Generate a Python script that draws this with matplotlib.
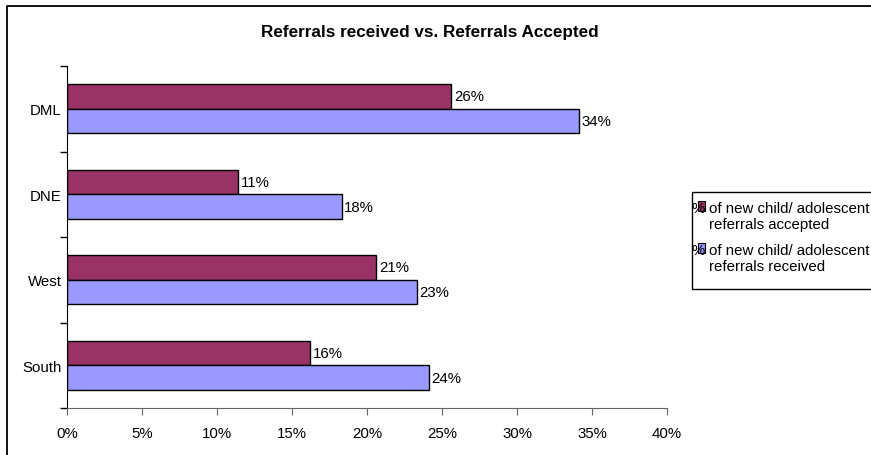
import matplotlib
matplotlib.use("Agg")
import matplotlib.pyplot as plt
from matplotlib.patches import Rectangle
from matplotlib.ticker import FuncFormatter, MultipleLocator

plt.rcParams['font.family'] = ['Liberation Sans', 'DejaVu Sans']

regions = ["DML", "DNE", "West", "South"]
accepted = [0.256, 0.114, 0.206, 0.162]
received = [0.341, 0.183, 0.233, 0.241]
series_names = ["% of new child/ adolescent\nreferrals accepted",
                "% of new child/ adolescent\nreferrals received"]
accepted_color = "#993366"
received_color = "#9999FF"

W, H = 871, 456
fig = plt.figure(figsize=(W / 100, H / 100), dpi=100)

# main plot area in pixel units
left, right, top, bottom = 67, 667, 67, 409
ax = fig.add_axes([left / W, 1 - bottom / H, (right - left) / W, (bottom - top) / H])

n = len(regions)
pos = list(range(n))
bh = 0.287
acc_y = [p - bh / 2 for p in pos]
rec_y = [p + bh / 2 for p in pos]
ax.barh(acc_y, accepted, height=bh, color=accepted_color, edgecolor="black", linewidth=1)
ax.barh(rec_y, received, height=bh, color=received_color, edgecolor="black", linewidth=1)

fs = 10.8
for y, v in zip(acc_y, accepted):
    ax.annotate(f"{round(v * 100):.0f}%", (v, y), xytext=(2, 0), textcoords="offset points",
                va="center", ha="left", fontsize=fs)
for y, v in zip(rec_y, received):
    ax.annotate(f"{round(v * 100):.0f}%", (v, y), xytext=(2, 0), textcoords="offset points",
                va="center", ha="left", fontsize=fs)

ax.set_xlim(0, 0.40)
ax.set_ylim(n - 0.5, -0.5)
ax.xaxis.set_major_locator(MultipleLocator(0.05))
ax.xaxis.set_major_formatter(FuncFormatter(lambda x, _: f"{x * 100:.0f}%"))
ax.set_yticks(pos)
ax.set_yticklabels(regions)
ax.set_yticks([p - 0.5 for p in range(n + 1)], minor=True)
ax.tick_params(axis="y", which="major", length=0, pad=4, labelsize=fs)
ax.tick_params(axis="y", which="minor", length=5, color="black", width=1)
ax.tick_params(axis="x", length=5, color="#666666", labelsize=fs, pad=8)
for s in ["top", "right"]:
    ax.spines[s].set_visible(False)
ax.spines["left"].set_color("black")
ax.spines["bottom"].set_color("#666666")

# overlay in pixel coordinates for frame, title and legend
ov = fig.add_axes([0, 0, 1, 1], zorder=-1)
ov.set_xlim(0, W)
ov.set_ylim(H, 0)
ov.axis("off")
ov.plot([7, 7, W + 5], [H + 5, 7, 7], color="black", lw=1.3)
ov.text(430, 33, "Referrals received vs. Referrals Accepted", ha="center", va="center",
        fontsize=12.3, fontweight="bold")

leg = fig.add_axes([0, 0, 1, 1], zorder=5)
leg.set_xlim(0, W)
leg.set_ylim(H, 0)
leg.axis("off")
leg.add_patch(Rectangle((692, 193), 200, 97, facecolor="white", edgecolor="black", lw=1))
for i, (name, col) in enumerate(zip(series_names, [accepted_color, received_color])):
    y0 = 209 + i * 42
    pct, rest = name.split(" ", 1)
    leg.text(691, y0, pct, ha="left", va="center", fontsize=fs)
    leg.add_patch(Rectangle((698, y0 - 7), 7, 10, facecolor=col, edgecolor="black", lw=0.8))
    leg.text(709, y0 + 8, rest, ha="left", va="center", fontsize=fs, linespacing=1.15)

fig.savefig("out.png", dpi=100)
